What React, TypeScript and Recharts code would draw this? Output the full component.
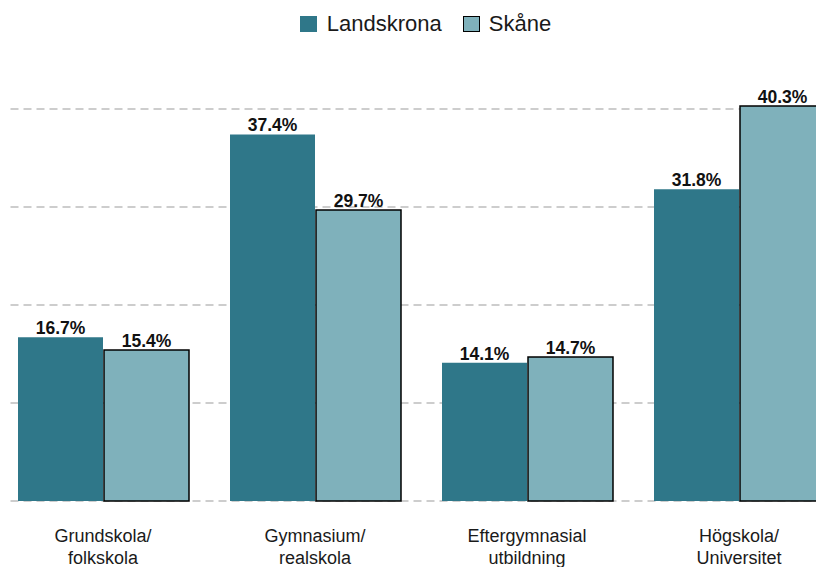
import React from 'react';
import { BarChart, Bar, XAxis, YAxis, CartesianGrid, Legend, LabelList } from 'recharts';

// Utbildningsnivå, andel av befolkningen (%)
const categories = ['Grundskola/\nfolkskola', 'Gymnasium/\nrealskola', 'Eftergymnasial\nutbildning', 'Högskola/\nUniversitet'];
const landskrona = [16.7, 37.4, 14.1, 31.8];
const skane = [15.4, 29.7, 14.7, 40.3];
const gridTicks = [0, 10, 20, 30, 40];

const DARK = '#2F7789';
const LIGHT = '#7FB1BB';
const FONT = '"Liberation Sans", Arial, Helvetica, sans-serif';

const data = categories.map((name, i) => ({
  name,
  Landskrona: landskrona[i],
  Skåne: skane[i],
}));

const CategoryTick = (props: any) => {
  const { x, y, payload } = props;
  const lines = String(payload.value).split('\n');
  return (
    <text x={x} y={y} textAnchor="middle" fill="#1a1a1a" fontSize={18} fontFamily={FONT}>
      {lines.map((line, i) => (
        <tspan key={i} x={x} dy={i === 0 ? 41 : 22}>
          {line}
        </tspan>
      ))}
    </text>
  );
};

// dashed grid, starting a little in from the left edge; no line at the plot top
const GridLine = (props: any) => {
  if (Math.abs(props.y1 - props.y) < 1) return <g key={props.key} />;
  return (
    <line
      key={props.key}
      x1={props.x1 + 13.5}
      y1={props.y1}
      x2={props.x2}
      y2={props.y2}
      stroke="#BDBDBD"
      strokeWidth={1.5}
      strokeDasharray="8 5"
    />
  );
};

const renderLegend = () => (
  <div
    style={{
      height: 60,
      boxSizing: 'border-box',
      paddingTop: 13,
      paddingLeft: 10,
      display: 'flex',
      justifyContent: 'center',
      alignItems: 'flex-start',
      fontFamily: FONT,
      fontSize: 22,
      lineHeight: '22px',
      color: '#1a1a1a',
    }}
  >
    <span style={{ display: 'flex', alignItems: 'center', marginRight: 21 }}>
      <span style={{ width: 17, height: 16, background: DARK, marginRight: 10, display: 'inline-block' }} />
      Landskrona
    </span>
    <span style={{ display: 'flex', alignItems: 'center' }}>
      <span
        style={{
          width: 15,
          height: 14,
          background: LIGHT,
          border: '1.5px solid #000',
          marginRight: 9,
          display: 'inline-block',
        }}
      />
      Skåne
    </span>
  </div>
);

export default function App() {
  return (
    <div style={{ position: 'absolute', left: 0, top: 0, width: 816, height: 567, overflow: 'hidden', background: '#fff' }}>
      <div style={{ position: 'absolute', left: -3.5, top: 0 }}>
        <BarChart
          width={848}
          height={567}
          data={data}
          margin={{ top: 0, right: 0, bottom: 0, left: 0 }}
          barSize={85}
          barGap={1}
        >
          <CartesianGrid vertical={false} horizontal={GridLine} />
          <XAxis
            dataKey="name"
            axisLine={false}
            tickLine={false}
            tickSize={0}
            tickMargin={0}
            height={66}
            interval={0}
            tick={<CategoryTick />}
          />
          <YAxis hide domain={[0, 45]} ticks={gridTicks} />
          <Legend verticalAlign="top" content={renderLegend} />
          <Bar dataKey="Landskrona" fill={DARK} isAnimationActive={false}>
            <LabelList
              dataKey="Landskrona"
              position="top"
              offset={3}
              formatter={(v: any) => `${Number(v).toFixed(1)}%`}
              style={{ fill: '#111', fontSize: 17.5, fontWeight: 'bold', fontFamily: FONT }}
            />
          </Bar>
          <Bar dataKey="Skåne" fill={LIGHT} stroke="#000" strokeWidth={1.5} isAnimationActive={false}>
            <LabelList
              dataKey="Skåne"
              position="top"
              offset={3}
              formatter={(v: any) => `${Number(v).toFixed(1)}%`}
              style={{ fill: '#111', fontSize: 17.5, fontWeight: 'bold', fontFamily: FONT }}
            />
          </Bar>
        </BarChart>
      </div>
    </div>
  );
}
